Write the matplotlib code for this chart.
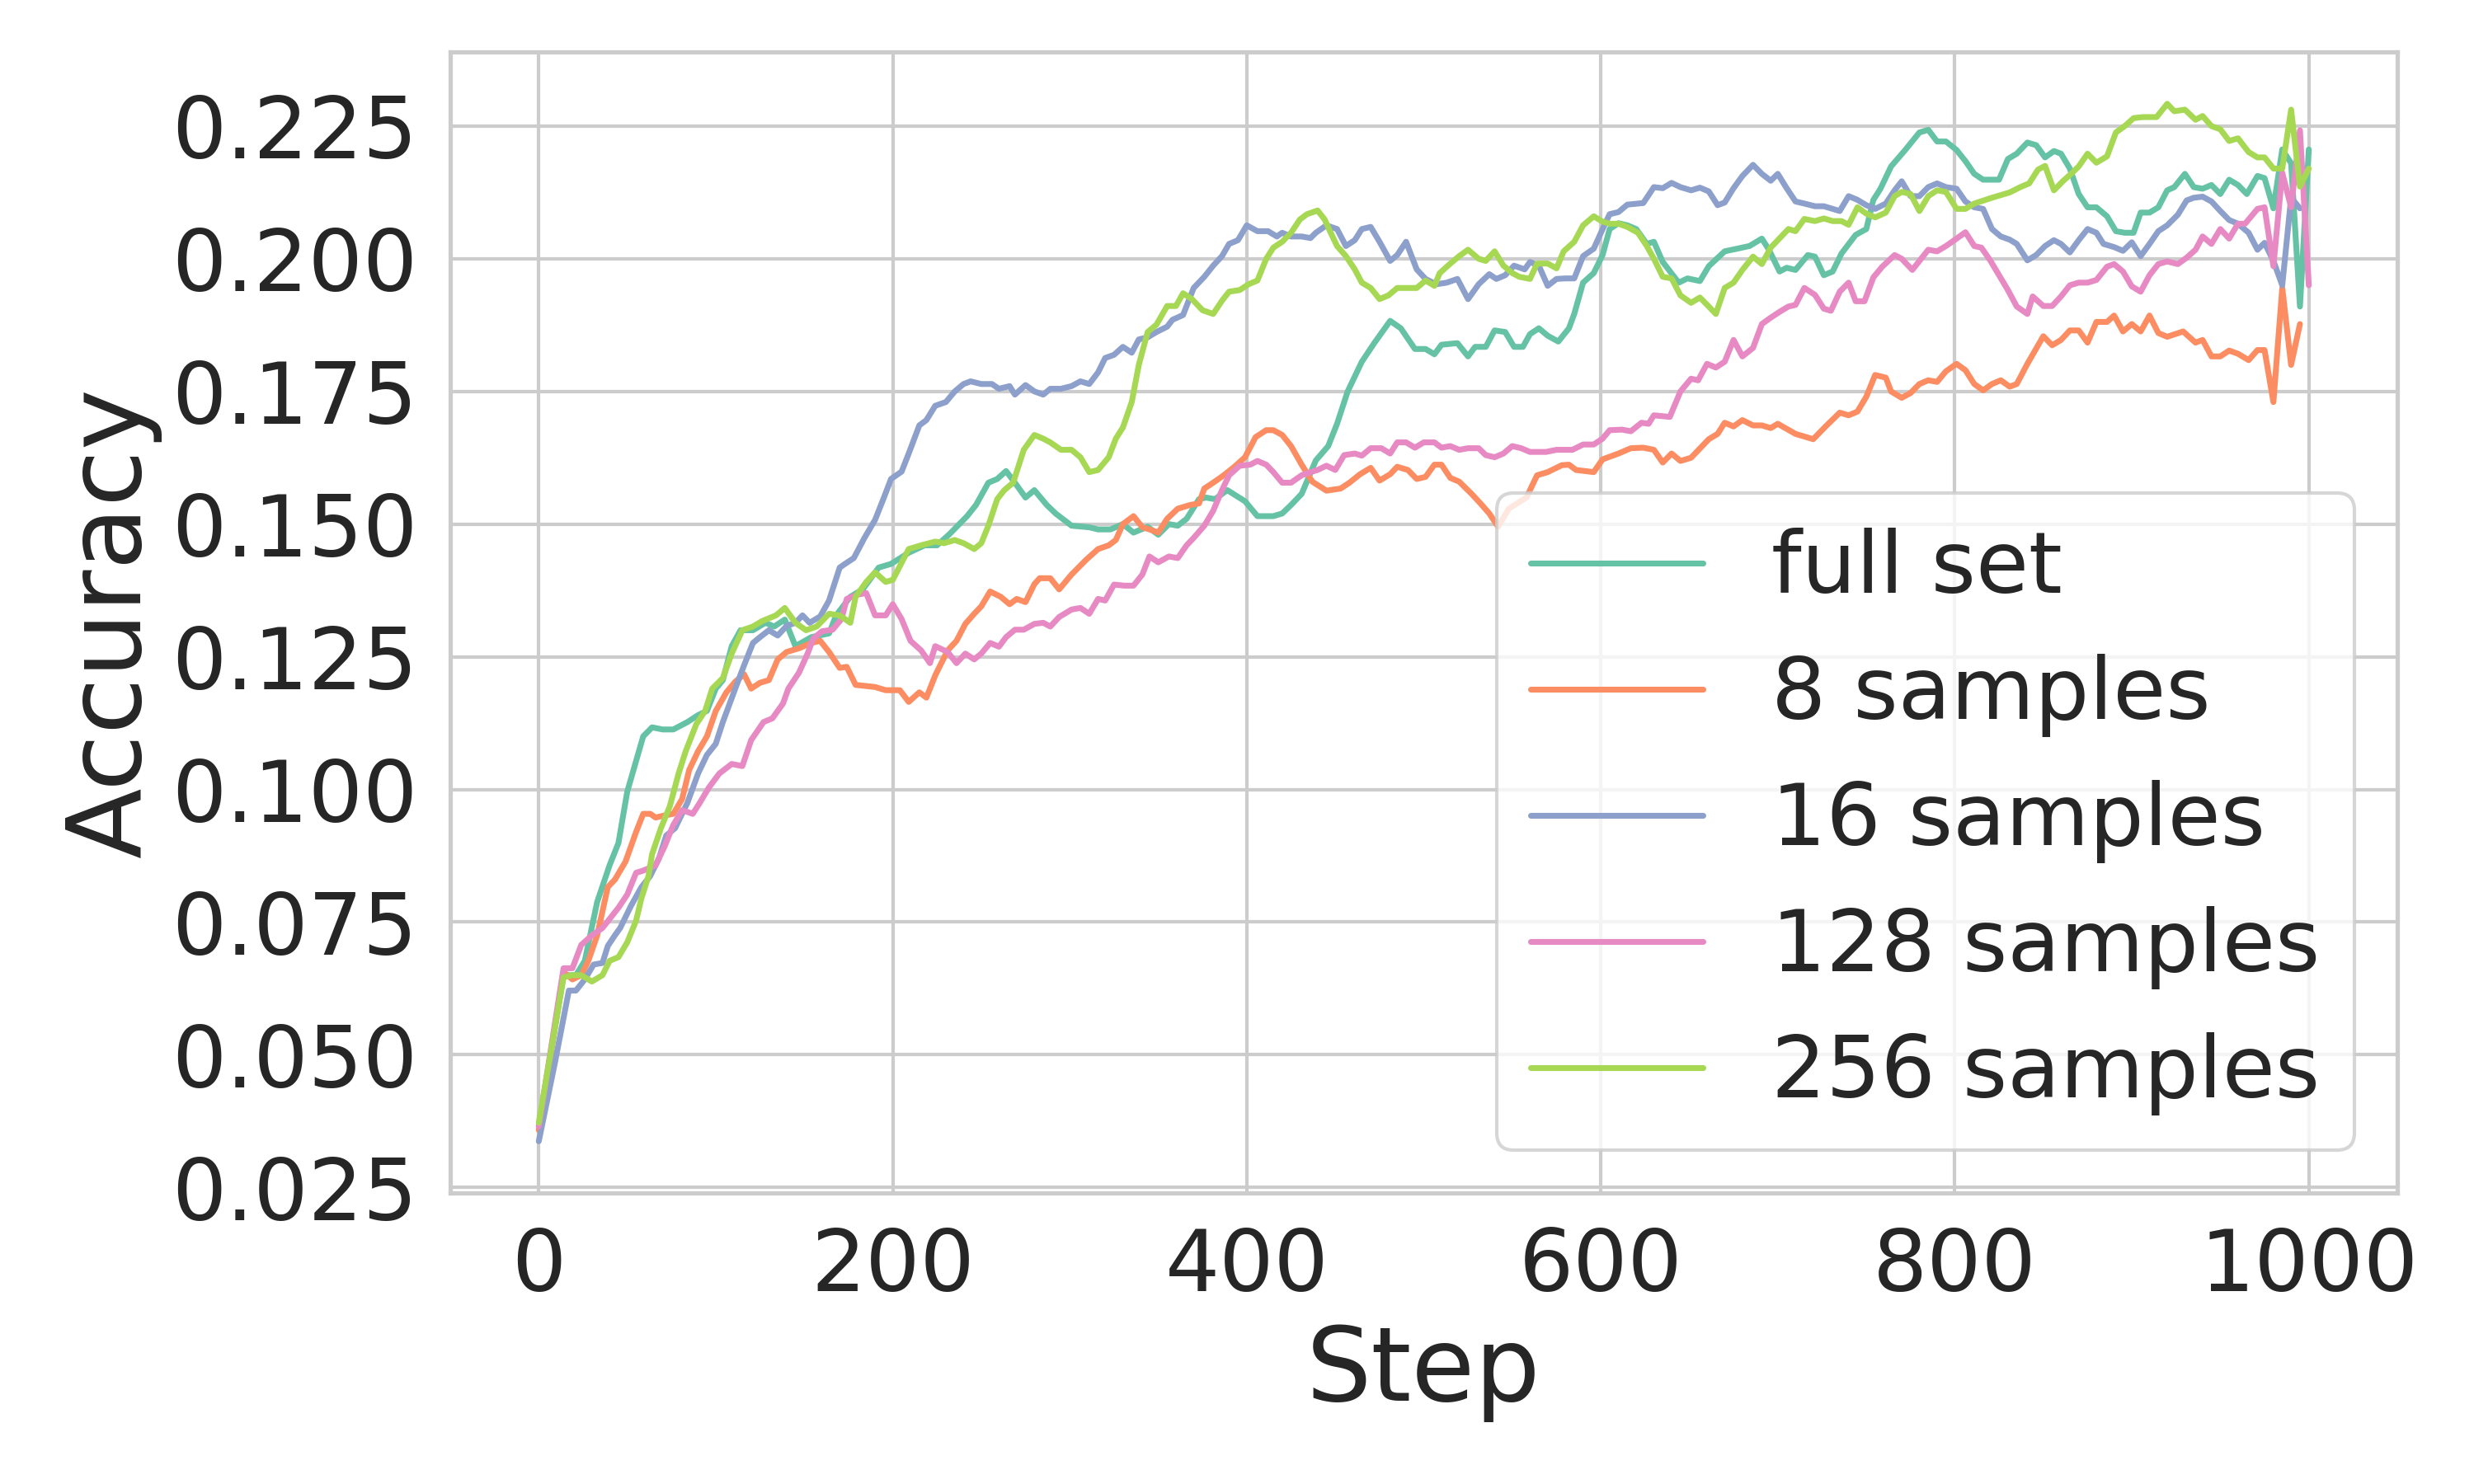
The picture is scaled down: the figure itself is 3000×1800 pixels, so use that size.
import numpy as np
import matplotlib
matplotlib.use("Agg")
import matplotlib.pyplot as plt
import seaborn as sns

# accuracy curves, one (step, acc) pair of lists per run
full_steps = [0, 14, 21, 26, 33, 40, 45, 50, 59, 64, 70, 76, 84, 90, 95, 100, 104, 109, 114, 121,
              128, 133, 139, 145, 154, 164, 168, 176, 183, 192, 199, 209, 218, 225, 232, 242, 247,
              254, 259, 264, 269, 275, 280, 287, 292, 301, 311, 316, 323, 330, 336, 344, 350, 356,
              361, 366, 373, 377, 382, 389, 399, 406, 415, 420, 425, 431, 439, 446, 451, 457, 465,
              472, 481, 487, 495, 501, 506, 510, 519, 525, 529, 535, 540, 546, 551, 556, 560, 565,
              570, 576, 582, 585, 590, 596, 601, 605, 610, 615, 620, 626, 630, 635, 644, 649, 656,
              661, 670, 684, 691, 695, 701, 705, 710, 717, 721, 726, 731, 736, 744, 750, 754, 758,
              764, 772, 780, 785, 790, 795, 801, 806, 811, 816, 825, 830, 835, 841, 846, 851, 856,
              860, 865, 870, 875, 880, 886, 891, 896, 901, 905, 910, 915, 920, 924, 930, 935, 940,
              945, 950, 955, 960, 965, 971, 975, 980, 985, 990, 995, 1000]
full_acc = [0.0365, 0.065, 0.065, 0.0677, 0.0788, 0.0857, 0.0899, 0.0996, 0.110, 0.1117, 0.1113,
            0.1113, 0.1127, 0.114, 0.1148, 0.119, 0.1206, 0.127, 0.130, 0.130, 0.1314, 0.1307,
            0.132, 0.127, 0.1287, 0.1294, 0.1328, 0.1363, 0.1377, 0.1418, 0.1425, 0.1446, 0.146,
            0.146, 0.1481, 0.1515, 0.1536, 0.1578, 0.1585, 0.160, 0.1578, 0.155, 0.1564, 0.1536,
            0.152, 0.1497, 0.1494, 0.149, 0.149, 0.150, 0.1484, 0.1495, 0.148, 0.150, 0.1497,
            0.151, 0.1547, 0.155, 0.1547, 0.1564, 0.1543, 0.1515, 0.1515, 0.152, 0.1536, 0.1557,
            0.162, 0.1647, 0.1689, 0.175, 0.1806, 0.1841, 0.1883, 0.1869, 0.183, 0.183, 0.182,
            0.1838, 0.1841, 0.1816, 0.1834, 0.1834, 0.1865, 0.1862, 0.1834, 0.1834, 0.1858,
            0.1869, 0.1855, 0.1844, 0.1869, 0.1896, 0.1955, 0.1973, 0.2007, 0.2056, 0.2067,
            0.2063, 0.2056, 0.2028, 0.2032, 0.1994, 0.1955, 0.1963, 0.1958, 0.1986, 0.2014,
            0.2024, 0.2038, 0.2017, 0.1976, 0.1983, 0.1979, 0.2007, 0.2004, 0.1969, 0.1976,
            0.2010, 0.2045, 0.2056, 0.2111, 0.2132, 0.2174, 0.2205, 0.2238, 0.2243, 0.2221,
            0.2221, 0.2205, 0.2184, 0.216, 0.2149, 0.2149, 0.2188, 0.2198, 0.2219, 0.2214, 0.2191,
            0.2203, 0.2198, 0.2170, 0.2122, 0.2097, 0.2097, 0.208, 0.2052, 0.2049, 0.2049, 0.2087,
            0.2087, 0.2097, 0.2129, 0.2135, 0.216, 0.2135, 0.2132, 0.2139, 0.2122, 0.2149, 0.2139,
            0.2122, 0.2156, 0.2152, 0.2095, 0.2206, 0.218, 0.191, 0.2206]

s8_steps = [0, 14, 19, 24, 28, 33, 39, 43, 49, 55, 59, 63, 66, 71, 76, 81, 85, 90, 95, 100, 106,
            111, 116, 120, 125, 130, 135, 140, 147, 154, 159, 164, 170, 174, 179, 190, 196, 204,
            209, 215, 219, 224, 231, 236, 241, 246, 250, 255, 261, 266, 270, 275, 280, 283, 289,
            294, 301, 309, 316, 322, 326, 330, 336, 341, 345, 350, 355, 361, 368, 373, 376, 381,
            387, 393, 399, 405, 411, 415, 420, 425, 431, 437, 445, 453, 458, 464, 470, 475, 481,
            485, 491, 496, 501, 506, 510, 515, 520, 527, 532, 537, 542, 548, 558, 564, 570, 578,
            582, 586, 596, 601, 610, 617, 624, 630, 635, 640, 645, 651, 661, 666, 670, 675, 680,
            686, 691, 696, 700, 710, 720, 727, 735, 740, 745, 750, 755, 761, 764, 770, 775, 780,
            785, 790, 795, 801, 806, 811, 816, 821, 826, 831, 835, 841, 850, 855, 860, 865, 870,
            875, 880, 886, 890, 895, 900, 905, 910, 915, 920, 929, 936, 940, 945, 950, 955, 960,
            966, 971, 975, 980, 985, 990, 995]
s8_acc = [0.0358, 0.0656, 0.0642, 0.065, 0.0677, 0.0725, 0.0816, 0.083, 0.0864, 0.092, 0.0954,
          0.0954, 0.0947, 0.0951, 0.0954, 0.0982, 0.1037, 0.1072, 0.110, 0.1148, 0.1183, 0.1203,
          0.1217, 0.119, 0.1201, 0.1206, 0.1245, 0.1259, 0.1266, 0.1276, 0.128, 0.1259, 0.1229,
          0.1231, 0.1197, 0.1193, 0.1187, 0.1187, 0.1165, 0.1183, 0.1173, 0.1215, 0.1262, 0.128,
          0.1312, 0.1331, 0.1345, 0.1373, 0.1363, 0.1349, 0.1359, 0.1353, 0.1387, 0.1398,
          0.1398, 0.1377, 0.1405, 0.1432, 0.1453, 0.146, 0.147, 0.150, 0.1515, 0.1494, 0.149,
          0.1484, 0.151, 0.1529, 0.1536, 0.1539, 0.1567, 0.1578, 0.1592, 0.1608, 0.1626, 0.1664,
          0.1677, 0.1677, 0.1668, 0.1647, 0.1612, 0.158, 0.1563, 0.1567, 0.1578, 0.1594, 0.1606,
          0.1582, 0.1594, 0.1608, 0.1602, 0.1585, 0.1589, 0.1612, 0.1612, 0.1587, 0.158, 0.1557,
          0.1539, 0.152, 0.1495, 0.1529, 0.155, 0.1592, 0.1598, 0.1611, 0.1612, 0.1602, 0.1598,
          0.1622, 0.1633, 0.1643, 0.1644, 0.164, 0.1616, 0.1633, 0.1619, 0.1625, 0.166, 0.167,
          0.1691, 0.1684, 0.1696, 0.1686, 0.1686, 0.1681, 0.1689, 0.167, 0.166, 0.1684, 0.171,
          0.1705, 0.1712, 0.174, 0.1781, 0.1776, 0.175, 0.1738, 0.1747, 0.1764, 0.1771, 0.1768,
          0.1788, 0.1802, 0.179, 0.1764, 0.1752, 0.1764, 0.1771, 0.1759, 0.1764, 0.1802, 0.1854,
          0.1837, 0.1847, 0.1865, 0.1865, 0.1842, 0.1881, 0.1881, 0.1893, 0.1863, 0.1877,
          0.1863, 0.1893, 0.186, 0.1853, 0.1863, 0.1842, 0.1847, 0.1816, 0.1816, 0.1827, 0.1821,
          0.1809, 0.1828, 0.1828, 0.173, 0.1945, 0.18, 0.1877]

s16_steps = [0, 9, 17, 21, 26, 31, 36, 39, 43, 46, 52, 58, 63, 68, 72, 77, 84, 90, 95, 100, 104,
             111, 116, 121, 125, 130, 135, 140, 145, 149, 153, 159, 164, 170, 173, 178, 184, 190,
             195, 199, 205, 209, 215, 219, 224, 230, 235, 240, 244, 250, 256, 260, 266, 269, 275,
             280, 285, 289, 295, 301, 306, 311, 316, 320, 325, 330, 335, 339, 344, 349, 355, 358,
             364, 370, 376, 381, 386, 390, 395, 400, 406, 412, 417, 420, 425, 431, 436, 439, 445,
             451, 456, 461, 465, 470, 475, 481, 485, 490, 496, 501, 507, 513, 519, 525, 531, 537,
             541, 546, 551, 557, 560, 565, 570, 575, 580, 585, 590, 596, 602, 605, 610, 615, 624,
             630, 635, 640, 645, 651, 656, 661, 666, 670, 675, 680, 686, 691, 696, 700, 705, 710,
             715, 721, 726, 731, 735, 740, 745, 750, 755, 761, 766, 770, 775, 780, 785, 790, 795,
             801, 806, 811, 816, 821, 826, 831, 835, 841, 846, 851, 856, 860, 865, 870, 875, 880,
             884, 890, 895, 900, 905, 910, 915, 920, 926, 931, 935, 940, 945, 950, 955, 960, 966,
             971, 975, 980, 985, 990, 995]
s16_acc = [0.0337, 0.0483, 0.0621, 0.0621, 0.0642, 0.067, 0.0673, 0.0705, 0.0725, 0.0739, 0.078,
           0.0816, 0.0837, 0.0871, 0.0913, 0.0927, 0.0975, 0.103, 0.1065, 0.1086, 0.1127, 0.119,
           0.1234, 0.1276, 0.1287, 0.130, 0.129, 0.1308, 0.1314, 0.1328, 0.1314, 0.1326, 0.1356,
           0.1418, 0.1425, 0.1436, 0.1474, 0.1508, 0.155, 0.1585, 0.1599, 0.1633, 0.1686, 0.1696,
           0.1723, 0.173, 0.175, 0.1764, 0.1769, 0.1764, 0.1764, 0.1755, 0.176, 0.1744, 0.1762,
           0.175, 0.1744, 0.1755, 0.1755, 0.176, 0.1769, 0.1764, 0.1786, 0.1813, 0.1819, 0.1834,
           0.1823, 0.1848, 0.1852, 0.1862, 0.1872, 0.1885, 0.1894, 0.1945, 0.1966, 0.1987,
           0.2005, 0.2028, 0.2035, 0.2063, 0.2052, 0.2052, 0.2042, 0.2049, 0.2042, 0.2042,
           0.2039, 0.2049, 0.2063, 0.2056, 0.2024, 0.2035, 0.2056, 0.206, 0.2032, 0.1996, 0.2007,
           0.2032, 0.198, 0.1962, 0.1952, 0.1955, 0.1962, 0.1924, 0.1952, 0.1971, 0.1962, 0.1969,
           0.1987, 0.198, 0.1994, 0.1987, 0.1949, 0.1962, 0.1963, 0.1963, 0.2005, 0.2019, 0.2063,
           0.2084, 0.2088, 0.2102, 0.2105, 0.2135, 0.2133, 0.2143, 0.2135, 0.2129, 0.2134,
           0.2127, 0.2101, 0.2106, 0.2133, 0.2156, 0.2177, 0.216, 0.2147, 0.216, 0.2133, 0.2108,
           0.2104, 0.2099, 0.2099, 0.2094, 0.209, 0.2118, 0.2111, 0.2101, 0.2094, 0.2104, 0.2129,
           0.2146, 0.2118, 0.2118, 0.2135, 0.2142, 0.2135, 0.2132, 0.2108, 0.2097, 0.2094,
           0.2056, 0.2042, 0.2036, 0.2028, 0.1997, 0.2007, 0.2024, 0.2035, 0.2028, 0.2012,
           0.2035, 0.2056, 0.2049, 0.2028, 0.2022, 0.2015, 0.2031, 0.2005, 0.2028, 0.2052,
           0.2063, 0.2083, 0.211, 0.2115, 0.2117, 0.2108, 0.209, 0.2073, 0.2066, 0.2049, 0.2017,
           0.203, 0.1996, 0.195, 0.2115, 0.2095]

s128_steps = [0, 14, 19, 24, 30, 36, 40, 45, 50, 55, 59, 66, 71, 76, 81, 87, 91, 96, 102, 109,
              115, 120, 127, 132, 138, 141, 147, 152, 155, 160, 166, 171, 174, 180, 185, 190, 196,
              200, 205, 210, 216, 221, 224, 231, 236, 241, 246, 250, 255, 260, 264, 269, 274, 280,
              285, 289, 294, 301, 306, 311, 316, 320, 325, 331, 336, 341, 345, 350, 356, 361, 366,
              370, 376, 381, 386, 390, 396, 402, 406, 411, 415, 420, 425, 431, 436, 440, 445, 450,
              455, 461, 465, 470, 476, 481, 485, 490, 495, 500, 506, 510, 515, 520, 525, 531, 535,
              540, 545, 550, 555, 560, 569, 575, 584, 590, 596, 601, 605, 612, 617, 623, 627, 630,
              639, 645, 651, 655, 660, 665, 670, 675, 680, 686, 691, 696, 701, 706, 710, 715, 721,
              726, 730, 735, 740, 744, 749, 754, 759, 766, 770, 776, 785, 790, 795, 801, 806, 811,
              815, 820, 825, 830, 835, 841, 844, 850, 855, 860, 865, 870, 875, 880, 886, 890, 895,
              900, 905, 910, 915, 920, 926, 931, 936, 940, 945, 950, 955, 960, 964, 971, 975, 980,
              985, 990, 995, 1000]
s128_acc = [0.0365, 0.0663, 0.0663, 0.0707, 0.0725, 0.0739, 0.0756, 0.0777, 0.0802, 0.0843,
            0.0847, 0.0857, 0.0892, 0.0933, 0.0961, 0.0954, 0.0975, 0.1003, 0.103, 0.1048,
            0.1044, 0.1093, 0.1127, 0.1134, 0.1162, 0.119, 0.122, 0.1257, 0.1284, 0.1298, 0.1301,
            0.1321, 0.1359, 0.1367, 0.137, 0.1328, 0.1328, 0.1349, 0.1321, 0.128, 0.1262, 0.1238,
            0.127, 0.1259, 0.1238, 0.1256, 0.1245, 0.1256, 0.1276, 0.1269, 0.1287, 0.1301, 0.1301,
            0.1312, 0.1314, 0.1307, 0.1325, 0.1339, 0.1342, 0.1331, 0.1359, 0.1356, 0.1386,
            0.1384, 0.1384, 0.1405, 0.1439, 0.1428, 0.1439, 0.1436, 0.146, 0.1474, 0.1497, 0.1525,
            0.1564, 0.1592, 0.161, 0.1612, 0.1619, 0.1612, 0.1598, 0.1578, 0.1578, 0.1592, 0.1598,
            0.1602, 0.161, 0.1602, 0.163, 0.1633, 0.1629, 0.1643, 0.1643, 0.1633, 0.1654, 0.1654,
            0.1644, 0.1654, 0.1654, 0.1644, 0.1647, 0.164, 0.1643, 0.1643, 0.163, 0.1626, 0.1633,
            0.1647, 0.1643, 0.1636, 0.1636, 0.164, 0.164, 0.165, 0.165, 0.1661, 0.1677, 0.1678,
            0.1675, 0.1691, 0.1689, 0.1705, 0.1702, 0.175, 0.1774, 0.1771, 0.1802, 0.1795, 0.1806,
            0.1847, 0.1816, 0.1832, 0.1877, 0.1889, 0.19, 0.191, 0.1913, 0.1945, 0.1932, 0.1906,
            0.1902, 0.1938, 0.1955, 0.192, 0.192, 0.1965, 0.1985, 0.2007, 0.20, 0.1979, 0.2017,
            0.2014, 0.2024, 0.2038, 0.205, 0.2024, 0.2021, 0.1997, 0.1969, 0.1941, 0.191, 0.1896,
            0.1929, 0.1911, 0.1911, 0.1929, 0.195, 0.1955, 0.1955, 0.196, 0.1985, 0.199, 0.1976,
            0.1948, 0.1938, 0.1969, 0.199, 0.1995, 0.199, 0.2002, 0.2017, 0.2042, 0.2028, 0.2056,
            0.2038, 0.2066, 0.2066, 0.2094, 0.2097, 0.1986, 0.2162, 0.2097, 0.2242, 0.195]

s256_steps = [0, 14, 19, 24, 30, 36, 40, 45, 50, 55, 58, 62, 64, 69, 74, 79, 83, 89, 94, 98, 104,
              109, 115, 121, 126, 134, 139, 145, 151, 157, 164, 170, 176, 179, 185, 190, 196, 200,
              209, 216, 224, 229, 235, 240, 246, 250, 254, 259, 263, 268, 274, 280, 285, 289, 295,
              301, 306, 311, 316, 322, 326, 330, 335, 339, 344, 349, 355, 360, 364, 369, 375, 381,
              386, 390, 396, 401, 406, 411, 415, 420, 425, 430, 434, 440, 444, 447, 451, 456, 461,
              465, 470, 475, 480, 485, 491, 496, 501, 506, 509, 515, 520, 525, 531, 535, 540, 545,
              550, 554, 560, 564, 570, 575, 579, 585, 590, 596, 601, 605, 610, 615, 621, 626, 630,
              635, 640, 645, 651, 656, 661, 665, 670, 675, 680, 686, 691, 696, 702, 706, 710, 715,
              721, 726, 731, 736, 740, 745, 750, 755, 761, 766, 770, 775, 780, 785, 790, 795, 801,
              806, 811, 821, 831, 837, 842, 847, 851, 856, 861, 866, 870, 875, 880, 886, 891, 896,
              901, 906, 914, 920, 924, 930, 936, 940, 945, 950, 955, 960, 966, 971, 975, 980, 985,
              990, 995, 1000]
s256_acc = [0.0372, 0.0646, 0.065, 0.065, 0.0638, 0.065, 0.0677, 0.0684, 0.0712, 0.0753, 0.0795,
            0.0837, 0.0878, 0.0927, 0.0968, 0.103, 0.1072, 0.1123, 0.1148, 0.119, 0.121, 0.1256,
            0.130, 0.1307, 0.1317, 0.1328, 0.1342, 0.1314, 0.130, 0.1307, 0.1331, 0.1328, 0.1314,
            0.1363, 0.1391, 0.1409, 0.1391, 0.1395, 0.1453, 0.146, 0.1467, 0.1464, 0.147, 0.1464,
            0.1453, 0.1464, 0.1497, 0.1547, 0.1564, 0.1578, 0.164, 0.1668, 0.1661, 0.1654, 0.164,
            0.164, 0.1626, 0.1598, 0.1602, 0.1626, 0.1661, 0.1682, 0.173, 0.18, 0.1862, 0.1876,
            0.1911, 0.1911, 0.1935, 0.1924, 0.1903, 0.1896, 0.1921, 0.1938, 0.1941, 0.1952,
            0.1959, 0.2, 0.2021, 0.2032, 0.2049, 0.2074, 0.2084, 0.2091, 0.2074, 0.2052, 0.2024,
            0.2005, 0.198, 0.1955, 0.1945, 0.1924, 0.1931, 0.1945, 0.1945, 0.1945, 0.1959, 0.1949,
            0.1973, 0.1991, 0.2005, 0.2017, 0.20, 0.1996, 0.2014, 0.1987, 0.1973, 0.1966, 0.1962,
            0.1991, 0.1991, 0.1982, 0.2014, 0.2032, 0.2063, 0.208, 0.207, 0.2066, 0.2066, 0.206,
            0.2049, 0.2024, 0.2, 0.1966, 0.1963, 0.1931, 0.1917, 0.1927, 0.191, 0.1896, 0.1945,
            0.1955, 0.1979, 0.2004, 0.199, 0.2021, 0.2042, 0.2056, 0.2052, 0.2075, 0.2071, 0.2076,
            0.2071, 0.2071, 0.2064, 0.2097, 0.2085, 0.2078, 0.2087, 0.2118, 0.2126, 0.2122, 0.209,
            0.2118, 0.2129, 0.2126, 0.2094, 0.2094, 0.2104, 0.2115, 0.2125, 0.2135, 0.2142,
            0.2168, 0.2175, 0.2129, 0.2146, 0.2161, 0.2174, 0.2198, 0.2181, 0.2193, 0.2238, 0.225,
            0.2265, 0.2267, 0.2267, 0.2292, 0.2278, 0.2281, 0.2262, 0.2269, 0.225, 0.2244, 0.2222,
            0.2227, 0.2201, 0.2191, 0.2191, 0.217, 0.217, 0.2281, 0.2136, 0.217]

labels = ["full set", "8 samples", "16 samples", "128 samples", "256 samples"]
runs = [(full_steps, full_acc), (s8_steps, s8_acc), (s16_steps, s16_acc),
        (s128_steps, s128_acc), (s256_steps, s256_acc)]
yticks = [0.025, 0.050, 0.075, 0.100, 0.125, 0.150, 0.175, 0.200, 0.225]

sns.set_theme(style="whitegrid")
plt.rcParams['font.family'] = ['DejaVu Sans']
colors = sns.color_palette("Set2", 5)

fig, ax = plt.subplots(figsize=(10, 6), dpi=300)
fig.subplots_adjust(left=0.182, right=0.969, top=0.965, bottom=0.196)

for (x, y), lab, c in zip(runs, labels, colors):
    ax.plot(x, y, color=c, lw=1.7, label=lab)

ax.set_yticks(yticks)
ax.set_yticklabels([f"{t:.3f}" for t in yticks])
ax.set_xticks([0, 200, 400, 600, 800, 1000])
ax.tick_params(labelsize=25)
ax.set_xlabel("Step", fontsize=30, labelpad=4)
ax.set_ylabel("Accuracy", fontsize=30, labelpad=3)
ax.legend(loc="lower right", fontsize=25)

fig.savefig("out.png")
